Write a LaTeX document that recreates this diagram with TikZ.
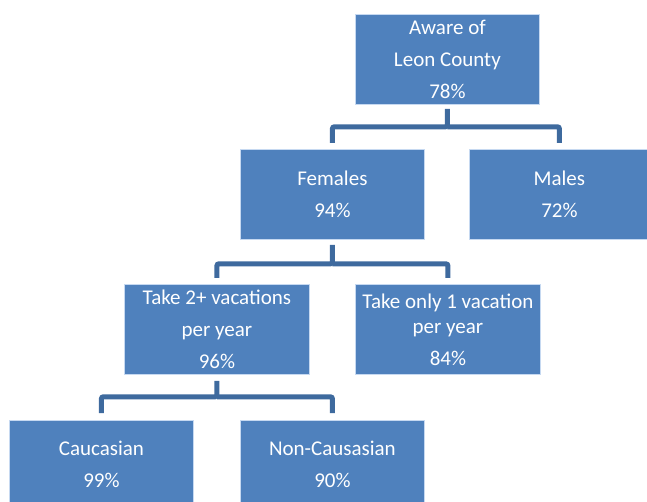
\documentclass[tikz,border=0pt]{standalone}
\usepackage{fontspec}
\setmainfont{Carlito}
\usepackage{tikz}

\definecolor{boxblue}{RGB}{79,129,189}
\definecolor{boxedge}{RGB}{198,217,241}
\definecolor{linkblue}{RGB}{62,106,158}

\tikzset{
  leaf/.style={anchor=north west, fill=boxblue, draw=boxedge, line width=0.8pt,
    text=white, align=center, inner sep=0pt,
    font=\fontsize{21}{32}\selectfont},
  link/.style={draw=linkblue, line width=5pt, rounded corners=2pt}
}

\begin{document}
\begin{tikzpicture}[x=1pt,y=-1pt]

  % page frame, boxes at the bottom run off the edge
  \useasboundingbox (0,0) rectangle (647,502);
  \clip (0,0) rectangle (647,502);

  % top of the tree
  \node[leaf, minimum width=184pt, minimum height=90pt] (aware) at (355,14)
    {Aware of\\Leon County\\78\%};

  % second level
  \node[leaf, minimum width=184pt, minimum height=90pt] (fem) at (240,149)
    {Females\\94\%};
  \node[leaf, minimum width=180pt, minimum height=90pt] (male) at (469,149)
    {Males\\72\%};

  % third level
  \node[leaf, minimum width=185pt, minimum height=90pt] (many) at (124,284)
    {Take 2+ vacations\\per year\\96\%};
  \node[leaf, minimum width=185pt, minimum height=90pt] (once) at (355,284)
    {Take only 1 vacation\\[-7pt]per year\\84\%};

  % fourth level
  \node[leaf, minimum width=184pt, minimum height=87pt] (cauc) at (9,420)
    {Caucasian\\99\%};
  \node[leaf, minimum width=184pt, minimum height=87pt] (noncauc) at (240,420)
    {Non-Causasian\\90\%};

  % elbow connectors
  \draw[link] ([yshift=-4pt]aware.south) -- ([yshift=-22pt]aware.south)
    -| ([yshift=6pt]fem.north);
  \draw[link] ([yshift=-22pt]aware.south) -| ([yshift=6pt]male.north);

  \draw[link] ([yshift=-5pt]fem.south) -- ([yshift=-24pt]fem.south)
    -| ([yshift=6pt]many.north);
  \draw[link] ([yshift=-24pt]fem.south) -| ([yshift=6pt]once.north);

  \draw[link] ([yshift=-6pt]many.south) -- ([yshift=-22pt]many.south)
    -| ([yshift=7pt]cauc.north);
  \draw[link] ([yshift=-22pt]many.south) -| ([yshift=7pt]noncauc.north);

\end{tikzpicture}
\end{document}
